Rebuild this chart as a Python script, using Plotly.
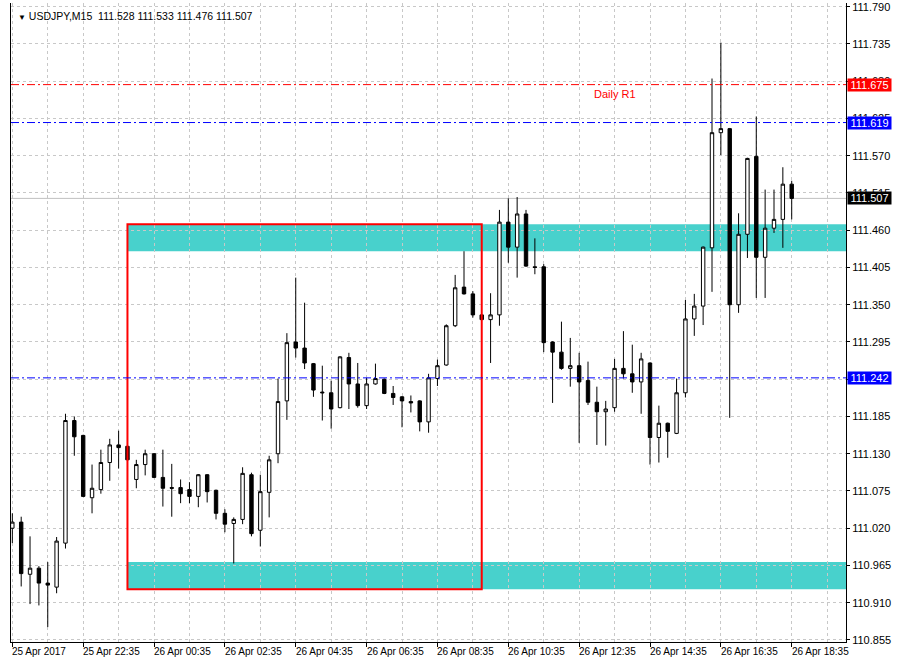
import plotly.graph_objects as go

# ---------------- data (USDJPY, M15) ----------------
open_ = [111.020, 111.029, 110.952, 110.961, 110.939, 110.933, 110.998, 111.179, 111.157, 111.065,
         111.077, 111.117, 111.143, 111.141, 111.092, 111.114, 111.130, 111.095, 111.080, 111.080,
         111.077, 111.067, 111.099, 111.076, 111.042, 111.027, 111.033, 111.099, 111.017, 111.073,
         111.130, 111.208, 111.295, 111.286, 111.263, 111.221, 111.220, 111.198, 111.272, 111.233,
         111.201, 111.233, 111.240, 111.219, 111.214, 111.207, 111.208, 111.177, 111.241, 111.261,
         111.319, 111.376, 111.366, 111.335, 111.328, 111.335, 111.472, 111.435, 111.484, 111.406,
         111.406, 111.295, 111.280, 111.256, 111.260, 111.238, 111.206, 111.192, 111.198, 111.256,
         111.248, 111.236, 111.264, 111.154, 111.175, 111.160, 111.220, 111.329, 111.348, 111.434,
         111.604, 111.610, 111.350, 111.454, 111.569, 111.420, 111.463, 111.476, 111.528]
high = [111.042, 111.037, 111.008, 110.964, 110.970, 111.007, 111.189, 111.185, 111.158, 111.114,
        111.136, 111.152, 111.164, 111.142, 111.121, 111.136, 111.131, 111.136, 111.115, 111.092,
        111.088, 111.100, 111.100, 111.077, 111.048, 111.036, 111.110, 111.102, 111.099, 111.127,
        111.241, 111.308, 111.390, 111.353, 111.264, 111.260, 111.238, 111.274, 111.279, 111.264,
        111.242, 111.263, 111.241, 111.230, 111.215, 111.216, 111.209, 111.248, 111.269, 111.321,
        111.394, 111.429, 111.370, 111.336, 111.367, 111.490, 111.507, 111.509, 111.490, 111.448,
        111.410, 111.296, 111.325, 111.301, 111.279, 111.266, 111.229, 111.208, 111.270, 111.311,
        111.291, 111.279, 111.265, 111.201, 111.176, 111.241, 111.357, 111.366, 111.436, 111.684,
        111.737, 111.611, 111.485, 111.567, 111.628, 111.520, 111.520, 111.553, 111.533]
low = [110.998, 110.934, 110.908, 110.906, 110.874, 110.924, 110.990, 111.127, 111.066, 111.042,
       111.071, 111.090, 111.108, 111.120, 111.079, 111.098, 111.094, 111.052, 111.037, 111.057,
       111.057, 111.051, 111.058, 111.033, 111.014, 110.968, 111.026, 111.008, 110.993, 111.036,
       111.116, 111.180, 111.272, 111.255, 111.214, 111.179, 111.167, 111.197, 111.196, 111.198,
       111.196, 111.232, 111.218, 111.202, 111.169, 111.191, 111.163, 111.161, 111.230, 111.260,
       111.317, 111.365, 111.331, 111.327, 111.264, 111.319, 111.412, 111.390, 111.406, 111.395,
       111.280, 111.205, 111.254, 111.229, 111.146, 111.202, 111.143, 111.142, 111.192, 111.241,
       111.220, 111.189, 111.114, 111.117, 111.124, 111.159, 111.213, 111.304, 111.320, 111.369,
       111.571, 111.183, 111.338, 111.419, 111.360, 111.360, 111.456, 111.434, 111.476]
close = [111.029, 110.953, 110.961, 110.939, 110.936, 111.001, 111.179, 111.155, 111.067, 111.079,
         111.117, 111.143, 111.139, 111.121, 111.114, 111.130, 111.095, 111.079, 111.079, 111.071,
         111.067, 111.099, 111.074, 111.042, 111.026, 111.033, 111.101, 111.012, 111.074, 111.121,
         111.207, 111.294, 111.286, 111.264, 111.224, 111.220, 111.196, 111.273, 111.233, 111.201,
         111.233, 111.241, 111.219, 111.213, 111.208, 111.205, 111.177, 111.242, 111.260, 111.319,
         111.375, 111.366, 111.335, 111.328, 111.335, 111.472, 111.435, 111.484, 111.407, 111.405,
         111.294, 111.280, 111.256, 111.260, 111.236, 111.206, 111.192, 111.196, 111.256, 111.248,
         111.236, 111.270, 111.154, 111.175, 111.163, 111.220, 111.329, 111.348, 111.435, 111.604,
         111.610, 111.350, 111.454, 111.566, 111.420, 111.463, 111.476, 111.528, 111.507]

time_labels = ["25 Apr 2017", "25 Apr 22:35", "26 Apr 00:35", "26 Apr 02:35", "26 Apr 04:35",
               "26 Apr 06:35", "26 Apr 08:35", "26 Apr 10:35", "26 Apr 12:35", "26 Apr 14:35",
               "26 Apr 16:35", "26 Apr 18:35"]
label_bars = [0, 8, 16, 24, 32, 40, 48, 56, 64, 72, 80, 88]

price_ticks = [111.790, 111.735, 111.680, 111.625, 111.570, 111.515, 111.460, 111.405, 111.350,
               111.295, 111.240, 111.185, 111.130, 111.075, 111.020, 110.965, 110.910, 110.855]

level_values = [111.675, 111.619, 111.242]
level_colors = ["#ff0000", "#0000ff", "#0000ff"]

zone_low = [111.429, 110.930]
zone_high = [111.469, 110.970]
zone_start_bar = 13
box_bars = [13, 53]
box_prices = [110.930, 111.469]

symbol = "USDJPY,M15"
r1_label = "Daily R1"
r1_label_bar = 68

bars = list(range(len(open_)))

# ---------------- figure ----------------
FONT = "Liberation Sans, Arial, sans-serif"
X_MIN, X_MAX = -0.15, 94.13
Y_MIN, Y_MAX = 110.852, 111.7955

fig = go.Figure()
fig.add_trace(go.Candlestick(
    x=bars, open=open_, high=high, low=low, close=close,
    increasing=dict(line=dict(color="black", width=1), fillcolor="white"),
    decreasing=dict(line=dict(color="black", width=1), fillcolor="black"),
    whiskerwidth=0, showlegend=False, hoverinfo="skip",
))

shapes = []
for lo, hi in zip(zone_low, zone_high):
    shapes.append(dict(type="rect", xref="x", yref="y", x0=zone_start_bar, x1=X_MAX,
                       y0=lo, y1=hi, fillcolor="#48D1CC", line=dict(width=0), layer="below"))
shapes.append(dict(type="rect", xref="x", yref="y", x0=box_bars[0], x1=box_bars[1],
                   y0=box_prices[0], y1=box_prices[1], line=dict(color="#ff0000", width=2),
                   fillcolor="rgba(0,0,0,0)", layer="above"))
# bid line
shapes.append(dict(type="line", xref="paper", yref="y", x0=0, x1=1, y0=close[-1], y1=close[-1],
                   line=dict(color="#c0c0c0", width=1), layer="between"))
for v, c in zip(level_values, level_colors):
    shapes.append(dict(type="line", xref="paper", yref="y", x0=0, x1=1, y0=v, y1=v,
                       line=dict(color=c, width=1, dash="8px,3px,2px,3px"), layer="above"))

annotations = []
for lb, txt in zip(label_bars, time_labels):
    annotations.append(dict(x=lb, y=0, xref="x", yref="paper", text=txt, showarrow=False,
                            xanchor="left", yanchor="top", xshift=-2, yshift=-2,
                            font=dict(family=FONT, size=10, color="black")))
for v, c in zip(level_values + [close[-1]], level_colors + ["#000000"]):
    annotations.append(dict(x=1, y=v, xref="paper", yref="y", text=f"{v:.3f}", showarrow=False,
                            xanchor="left", yanchor="middle", xshift=1, bgcolor=c,
                            width=42, height=11, borderpad=0.5,
                            font=dict(family=FONT, size=11, color="white")))
annotations.append(dict(x=r1_label_bar, y=level_values[0], xref="x", yref="y", text=r1_label,
                        showarrow=False, xanchor="center", yanchor="top", yshift=-1,
                        font=dict(family=FONT, size=11, color="#ff0000")))
header = (f"<span style='font-size:8px'>▼</span>\u00a0{symbol}\u00a0\u00a0"
          f"{open_[-1]:.3f} {high[-1]:.3f} {low[-1]:.3f} {close[-1]:.3f}")
annotations.append(dict(x=0, y=1, xref="paper", yref="paper", text=header, showarrow=False,
                        xanchor="left", yanchor="top", xshift=5, yshift=-5,
                        font=dict(family=FONT, size=10.5, color="black")))

grid_color = "#c8c8c8"
fig.update_layout(
    width=903, height=662,
    margin=dict(l=11, r=57, t=1, b=20),
    paper_bgcolor="white", plot_bgcolor="white",
    boxgap=0.45,
    shapes=shapes, annotations=annotations,
    font=dict(family=FONT, size=10, color="black"),
    xaxis=dict(range=[X_MIN, X_MAX], tickvals=label_bars, showticklabels=False,
               ticks="outside", ticklen=4, tickcolor="black",
               showgrid=True, gridcolor=grid_color, griddash="3px,3px", gridwidth=1,
               minor=dict(tickvals=[b + 4 for b in label_bars], showgrid=True,
                          gridcolor=grid_color, griddash="3px,3px", ticks=""),
               showline=True, linecolor="black", linewidth=1, zeroline=False,
               rangeslider=dict(visible=False), fixedrange=True),
    yaxis=dict(range=[Y_MIN, Y_MAX], side="right", tickvals=price_ticks,
               ticktext=[f"{t:.3f}" for t in price_ticks],
               ticks="outside", ticklen=3, tickcolor="black", ticklabeloverflow="allow",
               showgrid=True, gridcolor=grid_color, griddash="3px,3px", gridwidth=1,
               showline=True, mirror=True, linecolor="black", linewidth=1, zeroline=False,
               tickfont=dict(family=FONT, size=11, color="black"), fixedrange=True),
    hovermode=False,
)

fig.write_html("out.html", config={"displayModeBar": False},
               post_script="document.body.style.margin='0';document.body.style.overflow='hidden';")
